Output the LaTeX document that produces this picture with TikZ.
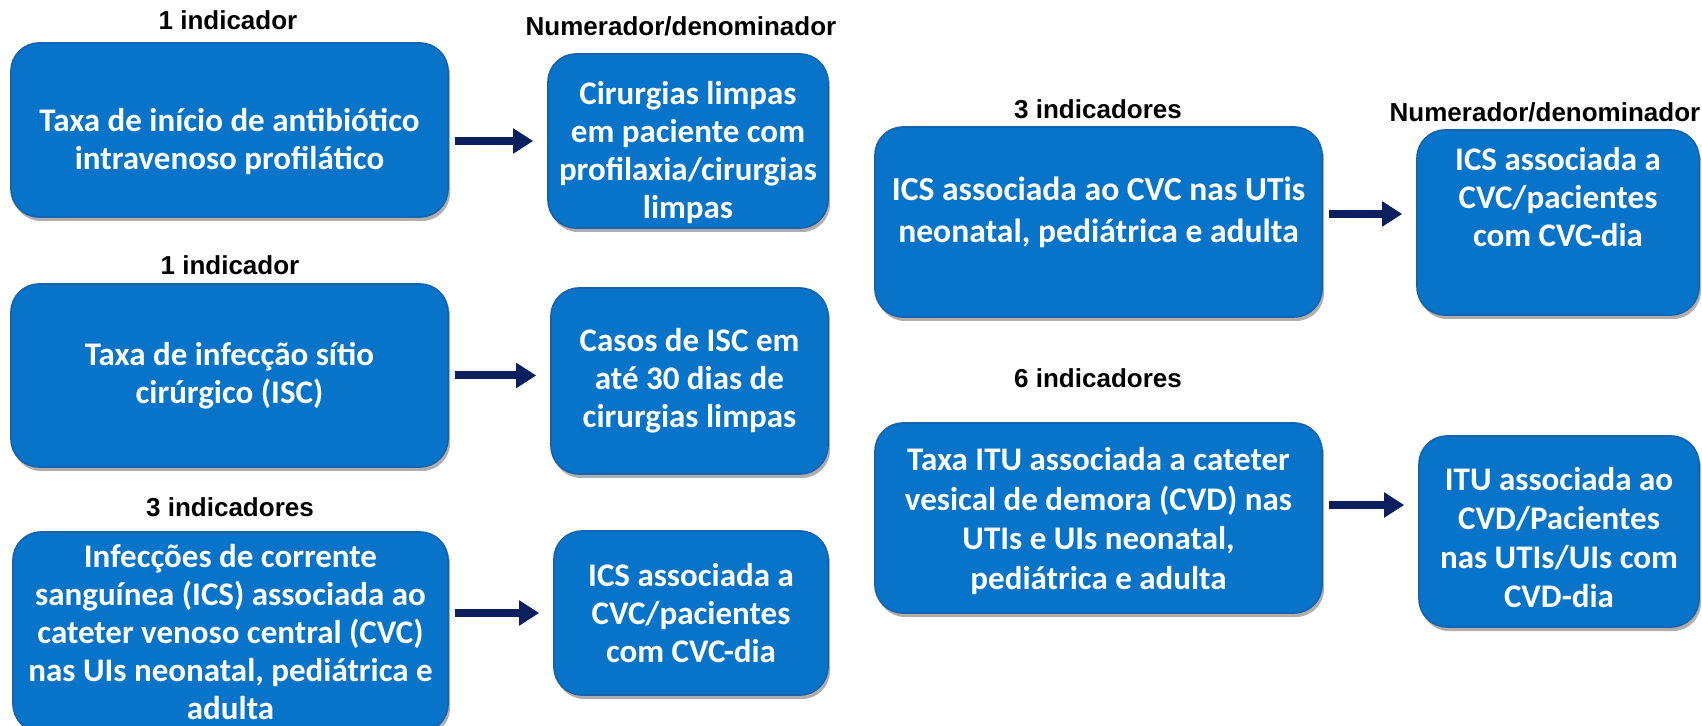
\documentclass[tikz,border=0pt]{standalone}
\usepackage{fontspec}
\setmainfont{Carlito}
\newfontfamily\hdrfont{Liberation Sans}
\usetikzlibrary{arrows.meta,shadows}
\definecolor{boxblue}{RGB}{8,116,201}
\definecolor{boxedge}{RGB}{22,98,172}
\definecolor{navy}{RGB}{12,32,96}
\tikzset{
  bluebox/.style={draw=boxedge, line width=0.8pt, fill=boxblue, rounded corners=14pt,
    inner sep=0pt,
    drop shadow={shadow xshift=1pt, shadow yshift=-2pt, opacity=0.45, fill=black!70}},
  txt/.style={text=white, align=center, inner sep=0pt,
    font=\bfseries\fontsize{16.5}{19}\selectfont},
  hdr/.style={font=\hdrfont\bfseries\fontsize{13}{15}\selectfont, text=black, inner sep=0pt},
  arr/.style={draw=navy, line width=4pt, -{Triangle[length=10pt,width=12pt]}, shorten <=3pt, shorten >=7pt}
}
\begin{document}
\begin{tikzpicture}[x=0.5pt,y=-0.5pt]
\useasboundingbox (0,0) rectangle (1702,726);
\clip (0,0) rectangle (1702,726);
\fill[white] (0,0) rectangle (1702,726);
% headers
\node[hdr] (h1) at (228,20) {1 indicador};
\node[hdr] (h2) at (681,26) {Numerador/denominador};
\node[hdr] (h3) at (230,265) {1 indicador};
\node[hdr] (h4) at (230,507) {3 indicadores};
\node[hdr] (h5) at (1098,109) {3 indicadores};
\node[hdr] (h6) at (1545,112) {Numerador/denominador};
\node[hdr] (h7) at (1098,378) {6 indicadores};
% boxes, left column
\node[bluebox, minimum width=218.5pt, minimum height=87pt] (A1) at (229.5,130) {};
\node[bluebox, minimum width=140pt, minimum height=87pt] (B1) at (688,141) {};
\node[bluebox, minimum width=218.5pt, minimum height=91.5pt] (A2) at (229.5,375.5) {};
\node[bluebox, minimum width=138.5pt, minimum height=93pt] (B2) at (689.5,381) {};
\node[bluebox, minimum width=217.5pt, minimum height=100pt] (A3) at (230.5,632) {};
\node[bluebox, minimum width=137pt, minimum height=82pt] (B3) at (691,613) {};
% boxes, right column
\node[bluebox, minimum width=223.5pt, minimum height=95pt] (C1) at (1098.5,222) {};
\node[bluebox, minimum width=141pt, minimum height=92.5pt] (C2) at (1558,222.5) {};
\node[bluebox, minimum width=223.5pt, minimum height=95pt] (C3) at (1098.5,518) {};
\node[bluebox, minimum width=140pt, minimum height=95.5pt] (C4) at (1559,531.5) {};
% texts
\node[txt] (A1t) at ([yshift=-5.5pt]A1.center) {Taxa de início de antibiótico\\intravenoso profilático};
\node[txt] (B1t) at ([yshift=-6pt]B1.center) {Cirurgias limpas\\em paciente com\\profilaxia/cirurgias\\limpas};
\node[txt] (A2t) at (A2.center) {Taxa de infecção sítio\\cirúrgico (ISC)};
\node[txt] (B2t) at (B2.center) {Casos de ISC em\\até 30 dias de\\cirurgias limpas};
\node[txt] (A3t) at (A3.center) {Infecções de corrente\\sanguínea (ICS) associada ao\\cateter venoso central (CVC)\\nas UIs neonatal, pediátrica e\\adulta};
\node[txt] (B3t) at (B3.center) {ICS associada a\\CVC/pacientes\\com CVC-dia};
\node[txt, font=\bfseries\fontsize{16.8}{21}\selectfont] (C1t) at ([yshift=5pt]C1.center) {ICS associada ao CVC nas UTis\\neonatal, pediátrica e adulta};
\node[txt] (C2t) at ([yshift=12.5pt]C2.center) {ICS associada a\\CVC/pacientes\\com CVC-dia};
\node[txt, font=\bfseries\fontsize{16.5}{19.7}\selectfont] (C3t) at ([yshift=-1.5pt]C3.center) {Taxa ITU associada a cateter\\vesical de demora (CVD) nas\\UTIs e UIs neonatal,\\pediátrica e adulta};
\node[txt, font=\bfseries\fontsize{16.5}{19.4}\selectfont] (C4t) at ([yshift=-3pt]C4.center) {ITU associada ao\\CVD/Pacientes\\nas UTIs/UIs com\\CVD-dia};
% arrows
\draw[arr] (A1.east |- B1.west) -- (B1.west);
\draw[arr] (A2.east) -- (A2.east -| B2.west);
\draw[arr] (A3.east |- B3.west) -- (B3.west);
\draw[arr] ([yshift=4pt]C1.east) -- ([yshift=4pt]C1.east -| C2.west);
\draw[arr] ([yshift=6.5pt]C3.east) -- ([yshift=6.5pt]C3.east -| C4.west);
\end{tikzpicture}
\end{document}
